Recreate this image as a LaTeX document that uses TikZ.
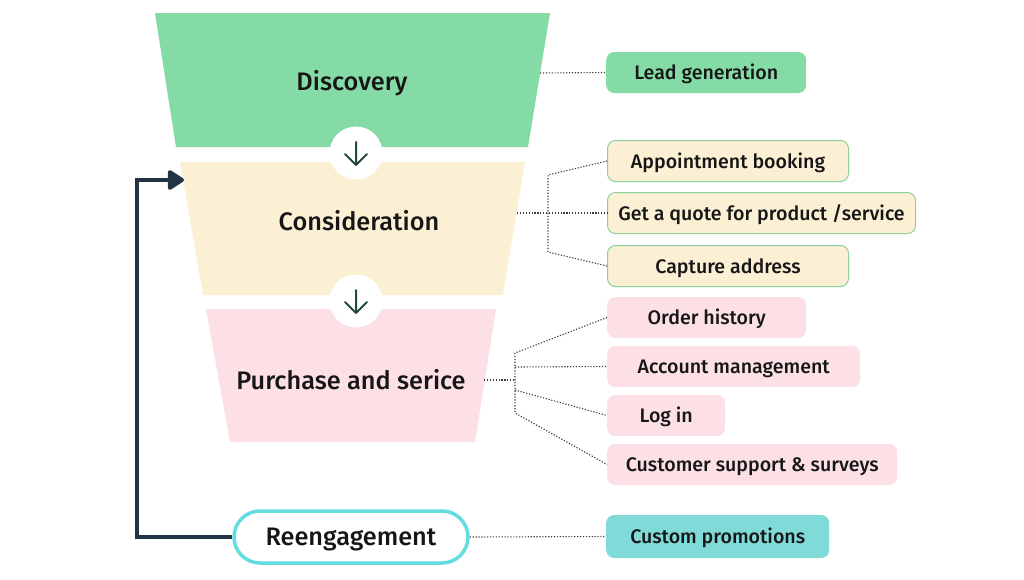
\documentclass[tikz,border=0pt]{standalone}
\usepackage{fontspec}
\setmainfont{Fira Sans}
\newfontfamily\medfont{Fira Sans Medium}
\usetikzlibrary{arrows.meta,calc}
\definecolor{greenA}{HTML}{85DBA5}
\definecolor{creamA}{HTML}{FCF0D4}
\definecolor{pinkA}{HTML}{FCE0E5}
\definecolor{tealA}{HTML}{80DAD8}
\definecolor{tealB}{HTML}{63DDE0}
\definecolor{navyA}{HTML}{233544}
\definecolor{arrowG}{HTML}{1F4A3C}
\definecolor{txt}{HTML}{161616}
\definecolor{dotc}{HTML}{3A3A3A}
\definecolor{borderG}{HTML}{8CCF9C}
\begin{document}
\begin{tikzpicture}[x=1pt,y=-1pt,
  title/.style={font=\medfont\fontsize{25.3}{30}\selectfont, text=txt, inner sep=0pt},
  lbl/.style={font=\medfont\fontsize{19.6}{23}\selectfont, text=txt, rounded corners=8pt,
     minimum height=41pt, inner sep=0pt, anchor=west, text height=19.5pt, text depth=5pt},
  greenbox/.style={lbl, fill=greenA},
  creambox/.style={lbl, fill=creamA, draw=borderG, line width=1pt},
  pinkbox/.style={lbl, fill=pinkA},
  tealbox/.style={lbl, fill=tealA},
  dots/.style={draw=dotc, line width=1.1pt, dash pattern=on 1.2pt off 1.7pt},
  disc/.style={circle, fill=white, minimum size=53pt, inner sep=0pt},
  downarrow/.style={draw=arrowG, line width=2pt, line cap=round, line join=round}]
\useasboundingbox (0,0) rectangle (1024,579);
\fill[white] (0,0) rectangle (1024,579);

% funnel
\fill[greenA] (155,13) -- (550,13) -- (528,147) -- (176,147) -- cycle;
\fill[creamA] (180,162) -- (525,162) -- (503,295) -- (203,295) -- cycle;
\fill[pinkA] (206,309) -- (496,309) -- (475,442) -- (230,442) -- cycle;

\node[title] (discovery) at (352,83) {Discovery};
\node[title] (consideration) at (359,221) {Consideration};
\node[title] (purchase) at (351,380) {Purchase and serice};

% step circles
\node[disc] (c1) at (356,153) {};
\draw[downarrow] ($(c1)+(0,-11)$) -- ($(c1)+(0,12)$)
   ($(c1)+(-11,1)$) -- ($(c1)+(0,12)$) -- ($(c1)+(11,1)$);
\node[disc] (c2) at (356,301) {};
\draw[downarrow] ($(c2)+(0,-11)$) -- ($(c2)+(0,12)$)
   ($(c2)+(-11,1)$) -- ($(c2)+(0,12)$) -- ($(c2)+(11,1)$);

% reengagement
\node[draw=tealB, line width=3.5pt, fill=white, rounded corners=26pt,
  minimum width=234pt, minimum height=52pt, inner sep=0pt,
  text height=23.5pt, text depth=6.3pt,
  font=\medfont\fontsize{25.3}{30}\selectfont, text=txt] (reeng) at (351,537) {Reengagement};

% right boxes
\node[greenbox, minimum width=200pt] (lead) at (606,72.5) {Lead generation};
\node[creambox, minimum width=241pt] (appt) at (607,161) {Appointment booking};
\node[creambox, minimum width=308pt] (quote) at (607,213) {Get a quote for product /service};
\node[creambox, minimum width=241pt] (capt) at (607,266) {Capture address};
\node[pinkbox, minimum width=199pt] (order) at (607,317.5) {Order history};
\node[pinkbox, minimum width=253pt] (acct) at (607,366.5) {Account management};
\node[pinkbox, minimum width=118pt] (login) at (607,415.5) {Log in};
\node[pinkbox, minimum width=290pt] (cust) at (607,464.5) {Customer support \& surveys};
\node[tealbox, minimum width=223pt, minimum height=43pt] (promo) at (606,536.5) {Custom promotions};

% connector points
\coordinate (dR) at (540,73);
\coordinate (cR) at (517,213);
\coordinate (cT) at (548,175);
\coordinate (cB) at (548,252);
\coordinate (pR) at (484,380);
\coordinate (pT) at (515,353);
\coordinate (pM) at (515,380);
\coordinate (pA) at (515,367);
\coordinate (pL) at (515,390);
\coordinate (pB) at (515,413);

\draw[dots] (dR) -- (lead.west);
\draw[dots] (cR) -- (quote.west);
\draw[dots] (appt.west) -- (cT) -- (cB) -- (capt.west);
\draw[dots] (pR) -- (pM);
\draw[dots] (order.west) -- (pT) -- (pB) -- (cust.west);
\draw[dots] (pA) -- (acct.west);
\draw[dots] (pL) -- (login.west);
\draw[dots] (reeng.east) -- (promo.west);

% feedback arrow
\coordinate (fbTip) at (184,180);
\draw[navyA, line width=4pt, -{Triangle[width=22pt,length=18pt,round]}]
  (reeng.west) -- (137,537) |- (fbTip);
\end{tikzpicture}
\end{document}
